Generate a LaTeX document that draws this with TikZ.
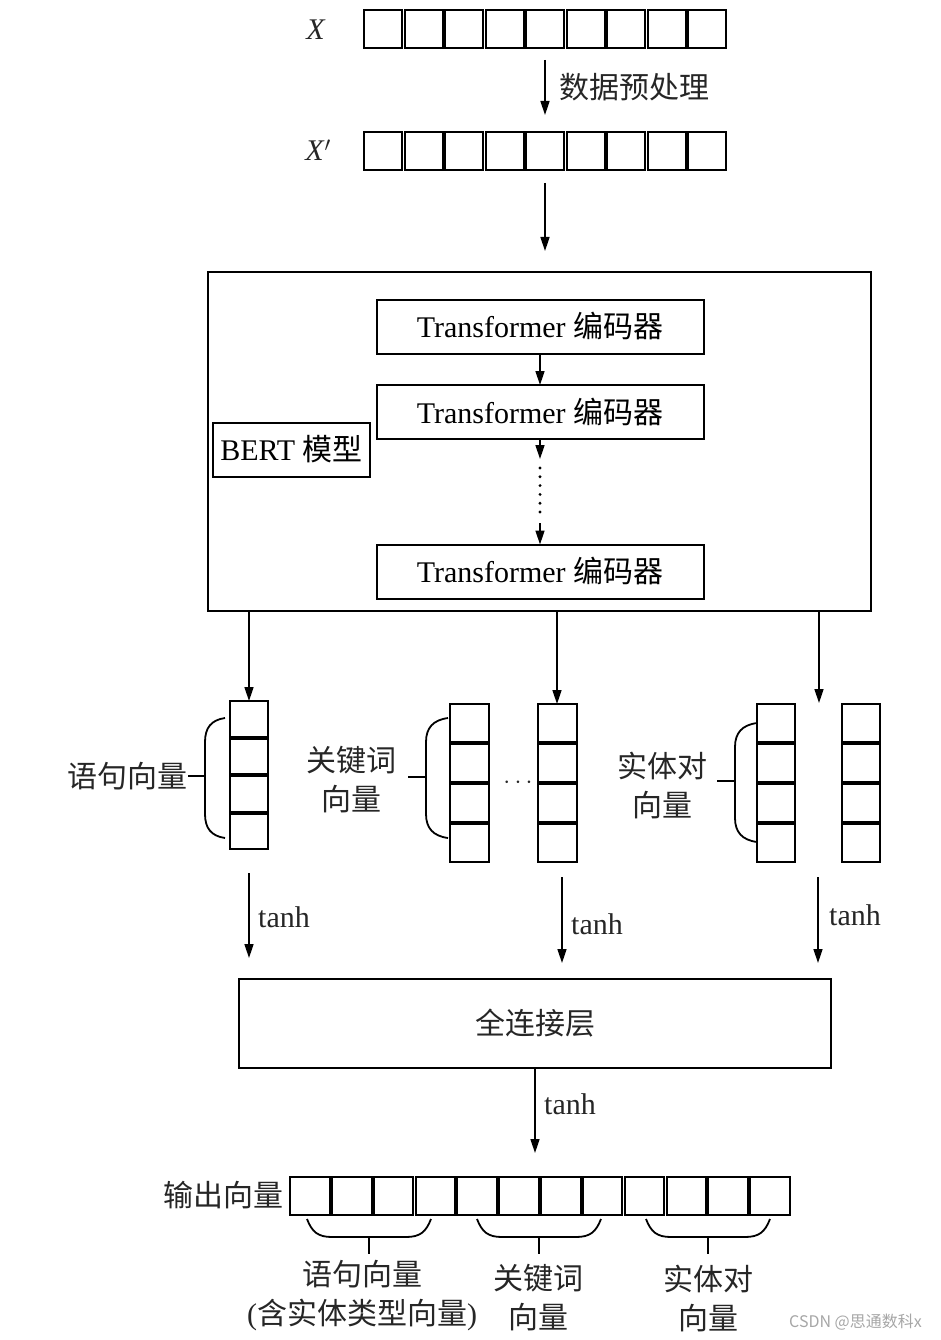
\documentclass[tikz,border=0pt]{standalone}
\usepackage{fontspec}
\setmainfont{Liberation Serif}
\newfontfamily\cjk{Noto Sans CJK SC}
\usetikzlibrary{arrows.meta}
\begin{document}
\begin{tikzpicture}[x=1pt,y=-1pt,
  arr/.style={line width=1.6pt,-{Triangle[length=14pt,width=9pt]}},
  cell/.style={draw,line width=2pt,inner sep=0pt,outer sep=0pt},
  box/.style={draw,line width=2pt,inner sep=0pt,outer sep=0pt,font=\fontsize{30}{34}\selectfont},
  txt/.style={inner sep=0pt,font=\fontsize{30}{34}\selectfont,text=black!85},
  ctxt/.style={inner sep=0pt,align=center,font=\cjk\fontsize{30}{39}\selectfont,text=black!85},
  brace/.style={line width=1.8pt},
]
\useasboundingbox (0,0) rectangle (940,1340);

% top rows
\foreach \i in {1,...,9}{
  \node[cell,minimum width=38pt,minimum height=38pt] (x\i) at ({363+40.5*(\i-0.5)},29.5) {};
  \node[cell,minimum width=38pt,minimum height=38pt] (xp\i) at ({363+40.5*(\i-0.5)},151.5) {};
}
\node[txt] (lx) at (316,30) {\textit{X}};
\node[txt] (lxp) at (318,150) {\textit{X}$'$};
\coordinate (a1s) at (545,60);
\coordinate (a1e) at (545,115);
\draw[arr] (a1s) -- (a1e);
\node[txt,anchor=west,font=\cjk\fontsize{30}{34}\selectfont] (lpre) at (559,87) {数据预处理};
\coordinate (a2s) at (545,183);
\coordinate (a2e) at (545,251);
\draw[arr] (a2s) -- (a2e);

% BERT block
\node[box,minimum width=663pt,minimum height=339pt] (bert) at (539.5,441.5) {};
\node[box,minimum width=327pt,minimum height=54pt] (t1) at (540,326.5) {Transformer {\cjk 编码器}};
\node[box,minimum width=327pt,minimum height=54pt] (t2) at (540,412) {Transformer {\cjk 编码器}};
\node[box,minimum width=327pt,minimum height=54pt] (t3) at (540,571.5) {Transformer {\cjk 编码器}};
\node[box,minimum width=157pt,minimum height=54pt] (bl) at (291.5,449.5) {BERT {\cjk 模型}};
\draw[arr] (t1.south) -- (t2.north);
\coordinate (d1) at (540,459);
\coordinate (d2) at (540,468);
\coordinate (d3) at (540,512);
\coordinate (d4) at (540,523);
\draw[arr] (t2.south) -- (d1);
\draw[line width=3.2pt,line cap=round,dash pattern=on 0pt off 8.8pt] (d2) -- (d3);
\draw[arr] (d4) -- (t3.north);

% vector columns
\foreach \j/\yc in {a/718.75,b/756.25,c/793.75,d/831.25}{
  \node[cell,minimum width=38pt,minimum height=35.5pt] (c1\j) at (249,\yc) {};
}
\foreach \j/\yc in {a/723,b/763,c/803,d/843}{
  \node[cell,minimum width=39pt,minimum height=38pt] (c2\j) at (469,\yc) {};
  \node[cell,minimum width=39pt,minimum height=38pt] (c3\j) at (557,\yc) {};
  \node[cell,minimum width=38pt,minimum height=38pt] (c4\j) at (776,\yc) {};
  \node[cell,minimum width=38pt,minimum height=38pt] (c5\j) at (861,\yc) {};
}
\coordinate (g3) at (819,703);
\draw[arr] (bert.south -| c1a.north) -- (c1a.north);
\draw[arr] (bert.south -| c3a.north) -- (c3a.north);
\draw[arr] (bert.south -| g3) -- (g3);
\node[txt] (dots) at (518,783) {$\cdots$};

% braces of columns
\node[ctxt,anchor=east] (l1) at (188,776) {语句向量};
\draw[brace] (225,718) .. controls (211,720) and (205,728) .. (205,742) -- (205,814) .. controls (205,828) and (211,836) .. (225,838);
\draw[brace] (205,776) -- (l1.east);
\node[ctxt] (l2) at (351,780) {关键词\\向量};
\draw[brace] (448,718) .. controls (433,720) and (426,728) .. (426,742) -- (426,814) .. controls (426,828) and (433,836) .. (448,838);
\draw[brace] (426,777) -- (408,777);
\node[ctxt] (l3) at (662,785) {实体对\\向量};
\draw[brace] (757,723) .. controls (742,725) and (735,733) .. (735,747) -- (735,818) .. controls (735,832) and (742,840) .. (757,842);
\draw[brace] (735,781) -- (717,781);

% tanh arrows
\coordinate (t1s) at (249,873); \coordinate (t1e) at (249,958);
\coordinate (t2s) at (562,877); \coordinate (t2e) at (562,963);
\coordinate (t3s) at (818,877); \coordinate (t3e) at (818,963);
\draw[arr] (t1s) -- (t1e);
\draw[arr] (t2s) -- (t2e);
\draw[arr] (t3s) -- (t3e);
\node[txt,anchor=west] (h1) at (258,917) {tanh};
\node[txt,anchor=west] (h2) at (571,924) {tanh};
\node[txt,anchor=west] (h3) at (829,915) {tanh};

% fully connected layer
\node[box,minimum width=592pt,minimum height=89pt,font=\cjk\fontsize{30}{34}\selectfont,text=black!85] (fc) at (535,1023.5) {全连接层};
\coordinate (oe) at (535,1153);
\draw[arr] (fc.south) -- (oe);
\node[txt,anchor=west] (h4) at (544,1104) {tanh};

% output vector
\foreach \i in {1,...,12}{
  \node[cell,minimum width=39.5pt,minimum height=38pt] (o\i) at ({289+41.83*(\i-0.5)},1195.5) {};
}
\node[ctxt,anchor=east] (lo) at (284,1195) {输出向量};
\draw[brace] (307,1219) .. controls (312,1232) and (318,1237) .. (332,1237) -- (406,1237) .. controls (420,1237) and (426,1232) .. (431,1219);
\draw[brace] (369,1237) -- (369,1254);
\draw[brace] (477,1219) .. controls (482,1232) and (488,1237) .. (502,1237) -- (576,1237) .. controls (590,1237) and (596,1232) .. (601,1219);
\draw[brace] (539,1237) -- (539,1254);
\draw[brace] (646,1219) .. controls (651,1232) and (657,1237) .. (671,1237) -- (745,1237) .. controls (759,1237) and (765,1232) .. (770,1219);
\draw[brace] (708,1237) -- (708,1254);
\node[ctxt] (b1) at (362,1296) {语句向量\\{\rmfamily(}含实体类型向量{\rmfamily)}};
\node[ctxt] (b2) at (538,1298) {关键词\\向量};
\node[ctxt] (b3) at (708,1298) {实体对\\向量};

% watermark
\node[inner sep=0pt,anchor=east,font=\cjk\fontsize{16}{18}\selectfont,text=gray!70] (wm) at (922,1322) {CSDN @思通数科x};
\end{tikzpicture}
\end{document}
